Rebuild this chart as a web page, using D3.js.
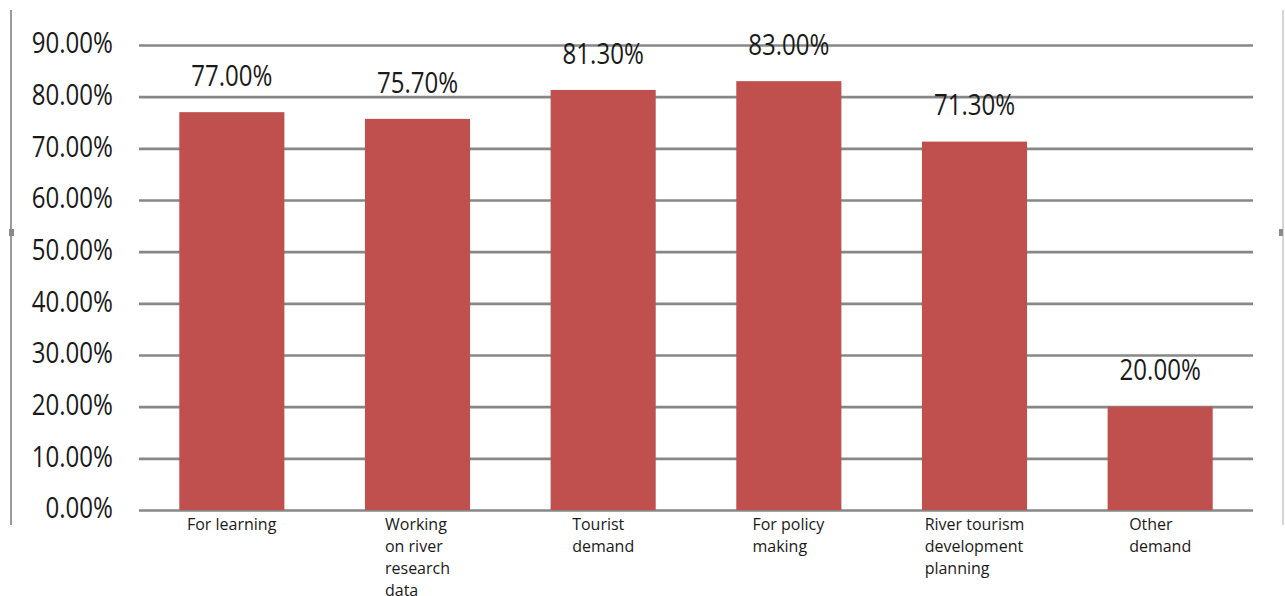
<!DOCTYPE html>
<html>
<head>
<meta charset="utf-8">
<script src="https://cdn.jsdelivr.net/npm/d3@7"></script>
<style>
  html, body { margin: 0; padding: 0; background: #fff; }
  svg { display: block; }
  text { font-family: "Open Sans", Lato, sans-serif; fill: #1a1a1a; }
</style>
</head>
<body>
<svg id="chart" width="1285" height="596"></svg>
<script>
// Share of respondents per purpose
const categories = [
  ["For learning"],
  ["Working", "on river", "research", "data"],
  ["Tourist", "demand"],
  ["For policy", "making"],
  ["River tourism", "development", "planning"],
  ["Other", "demand"]
];
const values = [0.77, 0.757, 0.813, 0.83, 0.713, 0.20];
const yTicks = [0, 0.1, 0.2, 0.3, 0.4, 0.5, 0.6, 0.7, 0.8, 0.9];

const svg = d3.select("#chart");
const plot = { left: 139, right: 1253, top: 45, bottom: 510 };
const fmt = d3.format(".2%");

const x = d3.scaleBand()
  .domain(d3.range(values.length))
  .range([plot.left, plot.right])
  .paddingInner(0.434)
  .paddingOuter(0.217);

const y = d3.scaleLinear()
  .domain([0, 0.9])
  .range([plot.bottom, plot.top]);

// outer frame edges with small handles
svg.append("line").attr("x1", 11).attr("x2", 11).attr("y1", 10).attr("y2", 525)
  .attr("stroke", "#9a9a9a").attr("stroke-width", 2);
svg.append("line").attr("x1", 1283).attr("x2", 1283).attr("y1", 10).attr("y2", 525)
  .attr("stroke", "#c8c8c8").attr("stroke-width", 1.5);
svg.append("rect").attr("x", 9).attr("y", 229).attr("width", 5).attr("height", 7).attr("fill", "#8a8a8a");
svg.append("rect").attr("x", 1279).attr("y", 229).attr("width", 4).attr("height", 7).attr("fill", "#8a8a8a");

// horizontal gridlines with percent labels
const yAxis = d3.axisLeft(y)
  .tickValues(yTicks)
  .tickFormat(fmt)
  .tickSize(-(plot.right - plot.left))
  .tickPadding(26);

const gy = svg.append("g")
  .attr("transform", `translate(${plot.left},0)`)
  .call(yAxis);
gy.select(".domain").remove();
gy.selectAll(".tick line")
  .attr("stroke", "#878787")
  .attr("stroke-width", 2.6);
gy.selectAll(".tick text")
  .attr("font-size", 29)
  .attr("font-family", "'Open Sans', Lato, sans-serif")
  .attr("fill", "#1a1a1a")
  .attr("dominant-baseline", "middle")
  .attr("dy", null)
  .attr("transform", function() {
    const xx = +d3.select(this).attr("x");
    return `translate(${xx},0) scale(0.83,1) translate(${-xx},0)`;
  });

// bars
svg.append("g").selectAll("rect")
  .data(values)
  .join("rect")
  .attr("x", (d, i) => x(i))
  .attr("width", x.bandwidth())
  .attr("y", d => y(d))
  .attr("height", d => y(0) - y(d))
  .attr("fill", "#C0504D");

// value labels
svg.append("g").selectAll("text")
  .data(values)
  .join("text")
  .attr("text-anchor", "middle")
  .attr("dominant-baseline", "middle")
  .attr("font-size", 29)
  .attr("transform", (d, i) => `translate(${x(i) + x.bandwidth() / 2},${y(d) - 34}) scale(0.83,1)`)
  .text(d => fmt(d));

// category labels: left-aligned lines, block centred under each bar
const cat = svg.append("g").selectAll("g")
  .data(categories)
  .join("g");
cat.each(function(lines, i) {
  const g = d3.select(this);
  const t = g.append("text").attr("font-size", 16);
  lines.forEach((ln, k) => {
    t.append("tspan").attr("x", 0).attr("y", k * 22).attr("dominant-baseline", "middle").text(ln);
  });
  const bw = t.node().getBBox().width;
  g.attr("transform", `translate(${x(i) + x.bandwidth() / 2 - bw / 2},526)`);
});
</script>
</body>
</html>
